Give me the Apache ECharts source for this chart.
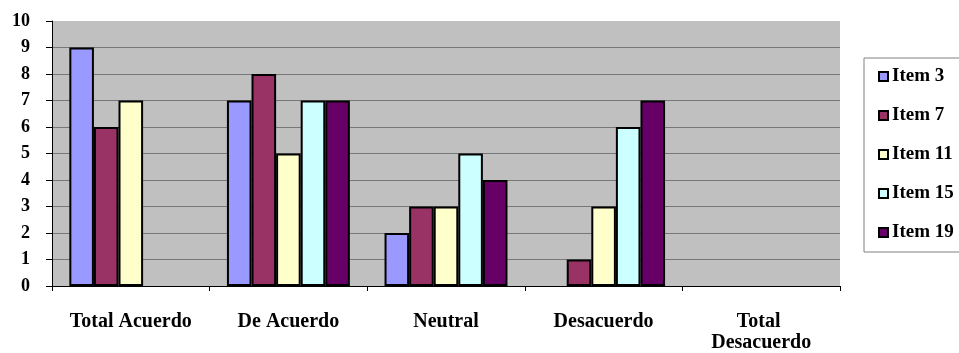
<!DOCTYPE html>
<html>
<head>
<meta charset="utf-8">
<script src="https://cdn.jsdelivr.net/npm/echarts@6/dist/echarts.min.js"></script>
<style>
  html, body { margin: 0; padding: 0; background: #fff; }
  #chart { width: 959px; height: 353px; }
</style>
</head>
<body>
<div id="chart"></div>
<script>
// Response categories and counts per item
const categories = ['Total Acuerdo', 'De Acuerdo', 'Neutral', 'Desacuerdo', 'Total Desacuerdo'];
const seriesNames = ['Item 3', 'Item 7', 'Item 11', 'Item 15', 'Item 19'];
const item3  = [9, 7, 2, null, null];
const item7  = [6, 8, 3, 1, null];
const item11 = [7, 5, 3, 3, null];
const item15 = [null, 7, 5, 6, null];
const item19 = [null, 7, 4, 7, null];
const yTicks = [0, 1, 2, 3, 4, 5, 6, 7, 8, 9, 10];

const values = [item3, item7, item11, item15, item19];
const colors = ['#9999FF', '#993366', '#FFFFCC', '#CCFFFF', '#660066'];
const font = 'Liberation Serif';

// Gridline colours: every line dark gray except the top one (plot edge)
const gridColors = yTicks.map((t, i) => i === yTicks.length - 1 ? 'rgba(0,0,0,0)' : '#777777');

const chart = echarts.init(document.getElementById('chart'));
chart.setOption({
  animation: false,
  backgroundColor: '#ffffff',
  grid: {
    left: 52, right: 119, top: 21, bottom: 67,
    show: true, backgroundColor: '#C0C0C0', borderWidth: 0
  },
  legend: {
    orient: 'vertical',
    left: 864, top: 58,
    width: 93,
    padding: [9, 10, 10, 14],
    itemGap: 20,
    itemWidth: 9, itemHeight: 9,
    icon: 'rect',
    borderColor: '#808080', borderWidth: 1,
    textStyle: { fontFamily: font, fontWeight: 'bold', fontSize: 19, color: '#000', lineHeight: 19, padding: [0, 2, 0, -1] },
    data: seriesNames
  },
  xAxis: {
    type: 'category',
    data: categories,
    axisLine: { show: true, lineStyle: { color: '#000', width: 1 } },
    axisTick: { show: true, length: 5, lineStyle: { color: '#000' } },
    axisLabel: {
      interval: 0, margin: 25, width: 140, overflow: 'break',
      fontFamily: font, fontWeight: 'bold', fontSize: 20, lineHeight: 21, color: '#000'
    },
    splitLine: { show: false }
  },
  yAxis: {
    type: 'value',
    min: yTicks[0], max: yTicks[yTicks.length - 1], interval: 1,
    axisLine: { show: true, lineStyle: { color: '#000', width: 1 } },
    axisTick: { show: true, length: 6, lineStyle: { color: '#000' } },
    axisLabel: { margin: 22, fontFamily: font, fontWeight: 'bold', fontSize: 18, color: '#000' },
    splitLine: { show: true, lineStyle: { color: gridColors, width: 1 } }
  },
  series: seriesNames.map((name, i) => ({
    name: name,
    type: 'bar',
    data: values[i],
    barGap: '0%',
    barCategoryGap: '22%',
    itemStyle: { color: colors[i], borderColor: '#000', borderWidth: 2 }
  }))
});
</script>
</body>
</html>
